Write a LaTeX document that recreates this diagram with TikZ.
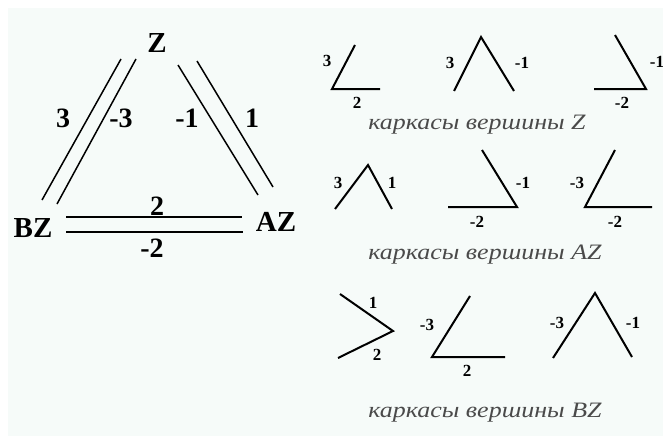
\documentclass[tikz,border=0pt]{standalone}
\usepackage{fontspec}
\setmainfont{Liberation Serif}
\usepackage{xcolor}
\definecolor{paper}{HTML}{F6FBF9}
\definecolor{capgray}{HTML}{4A4A4A}
\tikzset{
  edge/.style={line width=1.5pt},
  bone/.style={line width=2pt, line join=miter},
  vname/.style={font=\fontsize{29}{29}\selectfont\bfseries, inner sep=0pt},
  wt/.style={font=\fontsize{28}{28}\selectfont\bfseries, inner sep=0pt},
  lab/.style={font=\fontsize{17}{17}\selectfont\bfseries, inner sep=0pt},
  caption/.style={font=\fontsize{22}{22}\selectfont\itshape, text=capgray,
    inner sep=0pt, xscale=1.18}
}
\begin{document}
\begin{tikzpicture}[x=1pt, y=-1pt]
\useasboundingbox (0,0) rectangle (663,436);
\fill[paper] (8,8) rectangle (663,436);
% graph of the three vertices
\node[vname] (Z) at (157,43) {Z};
\node[vname] (BZ) at (33,228) {BZ};
\node[vname] (AZ) at (276,222) {AZ};
\path (42,200) coordinate (bz1) (121,59) coordinate (zb1)
      (57,204) coordinate (bz2) (136,59) coordinate (zb2)
      (178,65) coordinate (za1) (258,195) coordinate (az1)
      (197,61) coordinate (za2) (273,187) coordinate (az2)
      (66,217) coordinate (ba1) (242,217) coordinate (ab1)
      (66,232) coordinate (ba2) (243,232) coordinate (ab2);
\draw[edge] (bz1) -- (zb1);
\draw[edge] (bz2) -- (zb2);
\draw[edge] (za1) -- (az1);
\draw[edge] (za2) -- (az2);
\draw[edge] (ba1) -- (ab1);
\draw[edge] (ba2) -- (ab2);
\node[wt] (w3) at (63,118) {3};
\node[wt] (wm3) at (121,118) {-3};
\node[wt] (wm1) at (187,118) {-1};
\node[wt] (w1) at (252,118) {1};
\node[wt] (w2) at (157,206) {2};
\node[wt] (wm2) at (152,248) {-2};
% skeletons of Z
\draw[bone] (355,45) -- (332,89) -- (380,89);
\node[lab] (za) at (327,61) {3};
\node[lab] (zb) at (357,103) {2};
\draw[bone] (454,91) -- (481,37) -- (514,91);
\node[lab] (zc) at (450,63) {3};
\node[lab] (zd) at (522,63) {-1};
\draw[bone] (615,35) -- (646,89) -- (594,89);
\node[lab] (ze) at (657,62) {-1};
\node[lab] (zf) at (622,103) {-2};
\node[caption] (capZ) at (477,125) {каркасы вершины Z};
% skeletons of AZ
\draw[bone] (335,209) -- (368,165) -- (392,209);
\node[lab] (aa) at (338,183) {3};
\node[lab] (ab) at (392,183) {1};
\draw[bone] (482,150) -- (517,207) -- (448,207);
\node[lab] (ac) at (523,183) {-1};
\node[lab] (ad) at (477,222) {-2};
\draw[bone] (615,150) -- (585,207) -- (652,207);
\node[lab] (ae) at (577,183) {-3};
\node[lab] (af) at (615,222) {-2};
\node[caption] (capAZ) at (485,255) {каркасы вершины AZ};
% skeletons of BZ
\draw[bone] (340,294) -- (393,331) -- (338,358);
\node[lab] (ba) at (373,303) {1};
\node[lab] (bb) at (377,355) {2};
\draw[bone] (470,296) -- (432,357) -- (505,357);
\node[lab] (bc) at (427,325) {-3};
\node[lab] (bd) at (467,371) {2};
\draw[bone] (553,358) -- (595,293) -- (632,357);
\node[lab] (be) at (557,323) {-3};
\node[lab] (bf) at (633,323) {-1};
\node[caption] (capBZ) at (485,413) {каркасы вершины BZ};
\end{tikzpicture}
\end{document}
